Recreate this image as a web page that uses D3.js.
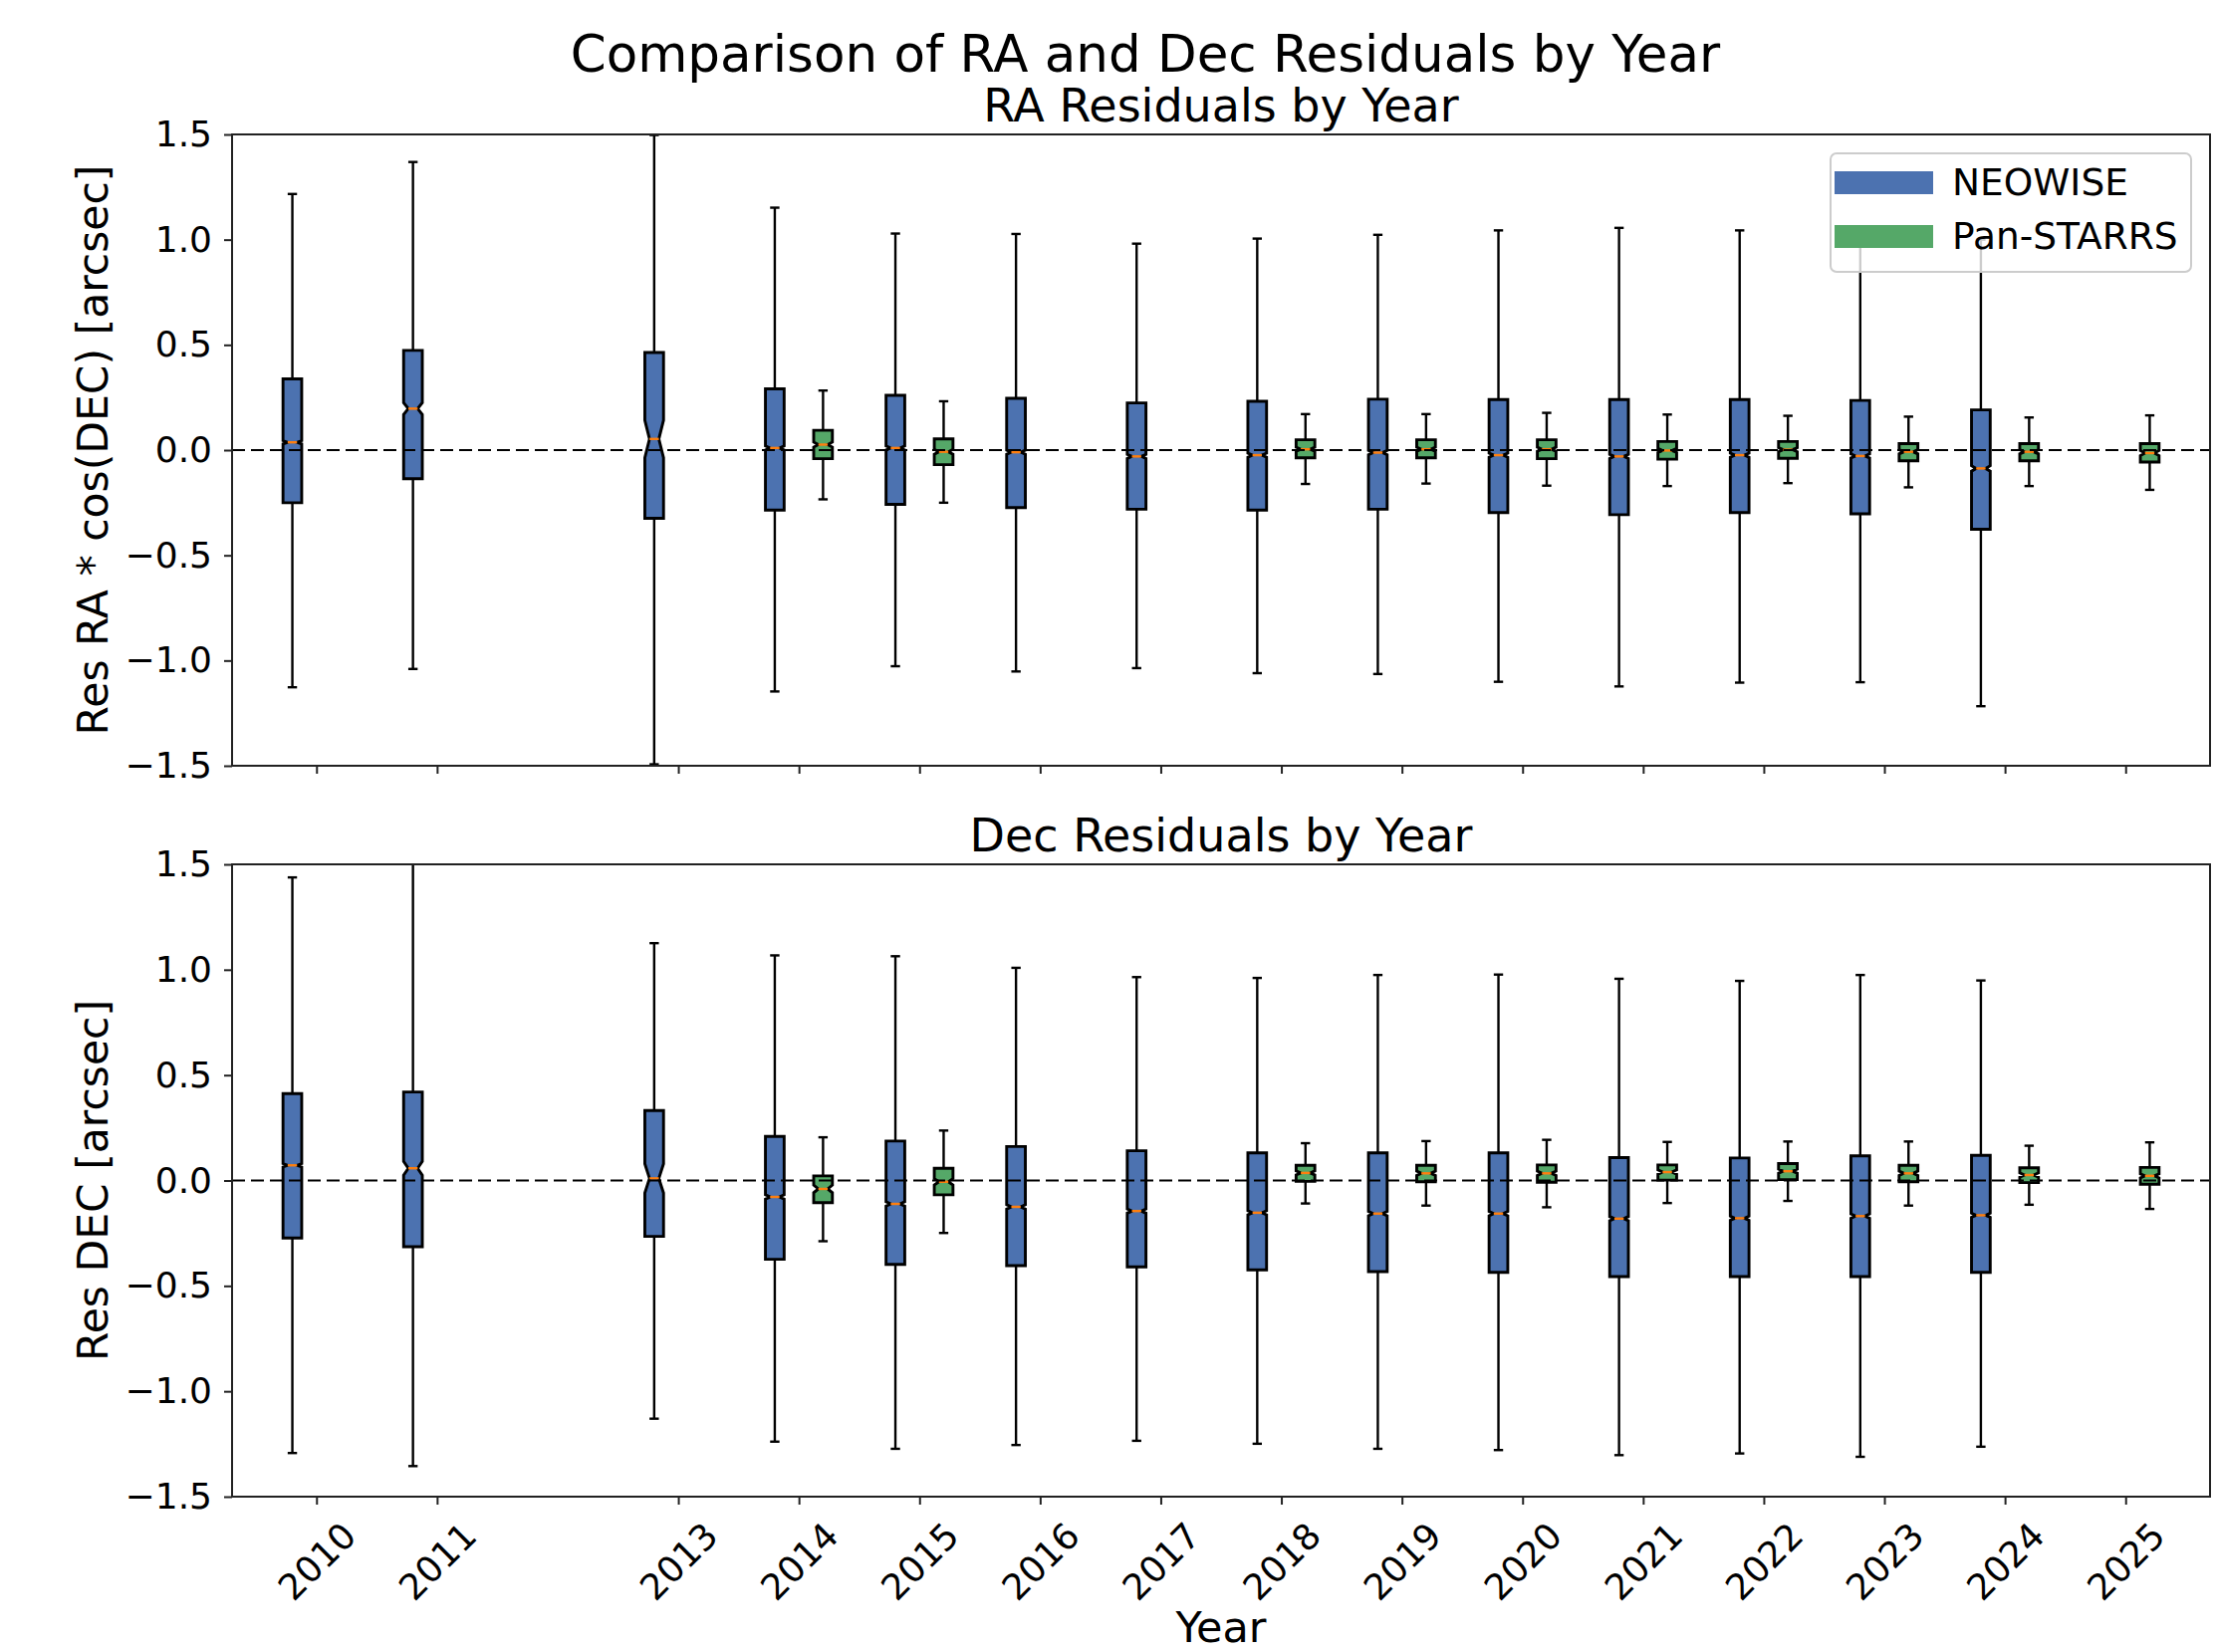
<!DOCTYPE html>
<html>
<head>
<meta charset="utf-8">
<script src="https://cdn.jsdelivr.net/npm/d3@7"></script>
<style>
  html, body { margin: 0; padding: 0; background: #fff; }
  svg { display: block; font-family: "DejaVu Sans", sans-serif; }
</style>
</head>
<body>
<svg id="chart" width="2225" height="1659"></svg>
<script>
// Observation years shown on the shared x axis (2012 has no data)
const years = [2010, 2011, 2013, 2014, 2015, 2016, 2017, 2018, 2019, 2020, 2021, 2022, 2023, 2024, 2025];
const yTicks = [-1.5, -1.0, -0.5, 0.0, 0.5, 1.0, 1.5];
const seriesNames = ["NEOWISE", "Pan-STARRS"];

// Box statistics per year: [year, whisker low, Q1, median, Q3, whisker high, notch half-height]
const raNeowise = [
  [2010, -1.127, -0.250,  0.037, 0.338, 1.217, 0.008],
  [2011, -1.040, -0.136,  0.197, 0.474, 1.369, 0.028],
  [2013, -1.493, -0.324,  0.053, 0.464, 1.497, 0.089],
  [2014, -1.147, -0.285,  0.010, 0.291, 1.152, 0.010],
  [2015, -1.027, -0.258,  0.010, 0.260, 1.029, 0.010],
  [2016, -1.052, -0.273, -0.010, 0.246, 1.027, 0.010],
  [2017, -1.036, -0.281, -0.030, 0.224, 0.981, 0.010],
  [2018, -1.060, -0.285, -0.024, 0.232, 1.005, 0.010],
  [2019, -1.064, -0.281, -0.012, 0.242, 1.023, 0.010],
  [2020, -1.101, -0.297, -0.024, 0.240, 1.044, 0.010],
  [2021, -1.123, -0.307, -0.030, 0.240, 1.056, 0.010],
  [2022, -1.105, -0.297, -0.024, 0.240, 1.044, 0.010],
  [2023, -1.103, -0.303, -0.028, 0.236, 1.030, 0.010],
  [2024, -1.217, -0.376, -0.087, 0.191, 1.000, 0.013]
];
const raPanstarrs = [
  [2014, -0.234, -0.041,  0.026, 0.094, 0.283, 0.012],
  [2015, -0.250, -0.069, -0.008, 0.053, 0.232, 0.012],
  [2018, -0.161, -0.037,  0.004, 0.049, 0.171, 0.010],
  [2019, -0.159, -0.037,  0.004, 0.049, 0.171, 0.010],
  [2020, -0.169, -0.041,  0.004, 0.049, 0.177, 0.010],
  [2021, -0.171, -0.043, -0.002, 0.041, 0.169, 0.010],
  [2022, -0.157, -0.039,  0.002, 0.041, 0.163, 0.010],
  [2023, -0.177, -0.051, -0.008, 0.031, 0.159, 0.010],
  [2024, -0.171, -0.051, -0.008, 0.031, 0.155, 0.010],
  [2025, -0.189, -0.057, -0.014, 0.031, 0.165, 0.012]
];
const decNeowise = [
  [2010, -1.293, -0.273,  0.072, 0.412, 1.438, 0.008],
  [2011, -1.355, -0.314,  0.058, 0.420, 1.550, 0.033],
  [2013, -1.130, -0.265,  0.010, 0.332, 1.126, 0.069],
  [2014, -1.239, -0.374, -0.078, 0.209, 1.068, 0.010],
  [2015, -1.273, -0.398, -0.111, 0.187, 1.064, 0.010],
  [2016, -1.255, -0.404, -0.125, 0.161, 1.009, 0.010],
  [2017, -1.235, -0.410, -0.145, 0.141, 0.965, 0.010],
  [2018, -1.249, -0.424, -0.153, 0.131, 0.961, 0.010],
  [2019, -1.273, -0.432, -0.157, 0.131, 0.975, 0.010],
  [2020, -1.279, -0.436, -0.157, 0.131, 0.977, 0.010],
  [2021, -1.303, -0.456, -0.181, 0.109, 0.957, 0.010],
  [2022, -1.295, -0.456, -0.179, 0.107, 0.947, 0.010],
  [2023, -1.311, -0.456, -0.169, 0.117, 0.975, 0.010],
  [2024, -1.263, -0.436, -0.165, 0.119, 0.949, 0.010]
];
const decPanstarrs = [
  [2014, -0.288, -0.105, -0.040, 0.022, 0.205, 0.018],
  [2015, -0.249, -0.068, -0.006, 0.058, 0.237, 0.015],
  [2018, -0.109, -0.004,  0.036, 0.072, 0.177, 0.010],
  [2019, -0.119, -0.006,  0.034, 0.072, 0.187, 0.010],
  [2020, -0.127, -0.008,  0.034, 0.074, 0.193, 0.010],
  [2021, -0.107,  0.002,  0.040, 0.074, 0.183, 0.010],
  [2022, -0.097,  0.004,  0.044, 0.080, 0.185, 0.010],
  [2023, -0.119, -0.006,  0.034, 0.072, 0.185, 0.010],
  [2024, -0.115, -0.010,  0.026, 0.060, 0.165, 0.010],
  [2025, -0.135, -0.018,  0.022, 0.062, 0.181, 0.010]
];

// ---- layout & styling ----
const COLORS = { NEOWISE: "#4C72B0", "Pan-STARRS": "#55A868" };
const MEDIAN = "#ff7f0e";
const INK = "#000";
const SPINE = "#222";
const OFFSET = 0.2;      // series offset from the year position
const BOX_W = 0.155;     // box width in years
const LEFT = 233, RIGHT = 2219;
const TICK_FONT = 36;
const panels = [
  { top: 135, bottom: 769, title: "RA Residuals by Year", ylabel: "Res RA * cos(DEC) [arcsec]",
    series: [raNeowise, raPanstarrs], showXLabels: false, legend: true },
  { top: 868, bottom: 1503, title: "Dec Residuals by Year", ylabel: "Res DEC [arcsec]",
    series: [decNeowise, decPanstarrs], showXLabels: true, legend: false }
];

const svg = d3.select("#chart");
const x = d3.scaleLinear().domain([2009.3, 2025.7]).range([LEFT, RIGHT]);

svg.append("text")
  .attr("x", 1150).attr("y", 72)
  .attr("text-anchor", "middle")
  .attr("font-size", 51.5)
  .attr("fill", INK)
  .text("Comparison of RA and Dec Residuals by Year");

panels.forEach((p, pi) => {
  const y = d3.scaleLinear().domain([-1.5, 1.5]).range([p.bottom, p.top]);
  const g = svg.append("g");
  const clipId = "clip" + pi;
  svg.append("clipPath").attr("id", clipId)
    .append("rect").attr("x", LEFT).attr("y", p.top)
    .attr("width", RIGHT - LEFT).attr("height", p.bottom - p.top);

  const plot = g.append("g").attr("clip-path", `url(#${clipId})`);

  // boxes for both series
  p.series.forEach((rows, si) => {
    const color = COLORS[seriesNames[si]];
    const off = si === 0 ? -OFFSET : OFFSET;
    rows.forEach(r => {
      const [yr, lo, q1, med, q3, hi, nh] = r;
      const c = yr + off;
      const bl = x(c - BOX_W / 2), br = x(c + BOX_W / 2);
      const nl = x(c - BOX_W / 4), nr = x(c + BOX_W / 4);
      const cx = x(c);
      const bg = plot.append("g");
      // whiskers
      bg.append("line").attr("x1", cx).attr("x2", cx).attr("y1", y(q1)).attr("y2", y(lo))
        .attr("stroke", INK).attr("stroke-width", 2.4);
      bg.append("line").attr("x1", cx).attr("x2", cx).attr("y1", y(q3)).attr("y2", y(hi))
        .attr("stroke", INK).attr("stroke-width", 2.4);
      // caps
      [lo, hi].forEach(v => {
        bg.append("line").attr("x1", nl).attr("x2", nr).attr("y1", y(v)).attr("y2", y(v))
          .attr("stroke", INK).attr("stroke-width", 2.4);
      });
      // notched box
      const pts = [
        [bl, y(q1)], [br, y(q1)], [br, y(med - nh)], [nr, y(med)], [br, y(med + nh)],
        [br, y(q3)], [bl, y(q3)], [bl, y(med + nh)], [nl, y(med)], [bl, y(med - nh)]
      ];
      bg.append("path").attr("d", d3.line()(pts) + "Z")
        .attr("fill", color).attr("stroke", INK).attr("stroke-width", 2.9)
        .attr("stroke-linejoin", "miter");
      // median
      bg.append("line").attr("x1", nl).attr("x2", nr).attr("y1", y(med)).attr("y2", y(med))
        .attr("stroke", MEDIAN).attr("stroke-width", 2.4);
    });
  });

  // zero reference line
  plot.append("line")
    .attr("x1", LEFT).attr("x2", RIGHT).attr("y1", y(0)).attr("y2", y(0))
    .attr("stroke", INK).attr("stroke-width", 2.2).attr("stroke-dasharray", "13,6");

  // y axis
  const yAxis = d3.axisLeft(y).tickValues(yTicks).tickFormat(d3.format(".1f"))
    .tickSize(8).tickSizeOuter(0).tickPadding(12);
  const ya = g.append("g").attr("transform", `translate(${LEFT},0)`).call(yAxis);
  ya.select(".domain").remove();
  ya.selectAll(".tick line").attr("stroke", SPINE).attr("stroke-width", 2);
  ya.selectAll(".tick text").attr("font-size", TICK_FONT).attr("fill", INK)
    .attr("font-family", "DejaVu Sans");

  // x axis
  const xAxis = d3.axisBottom(x).tickValues(years)
    .tickFormat(p.showXLabels ? d => String(d) : () => "")
    .tickSize(8).tickSizeOuter(0).tickPadding(0);
  const xa = g.append("g").attr("transform", `translate(0,${p.bottom})`).call(xAxis);
  xa.select(".domain").remove();
  xa.selectAll(".tick line").attr("stroke", SPINE).attr("stroke-width", 2);
  xa.selectAll(".tick text")
    .attr("font-size", TICK_FONT).attr("fill", INK).attr("font-family", "DejaVu Sans")
    .attr("x", 0).attr("y", 0).attr("dy", "0.35em")
    .attr("text-anchor", "middle")
    .attr("transform", "translate(0,65) rotate(-45)");

  // spines
  g.append("rect").attr("x", LEFT).attr("y", p.top)
    .attr("width", RIGHT - LEFT).attr("height", p.bottom - p.top)
    .attr("fill", "none").attr("stroke", SPINE).attr("stroke-width", 2);

  // titles and labels
  g.append("text").attr("x", (LEFT + RIGHT) / 2).attr("y", p.top - 13)
    .attr("text-anchor", "middle").attr("font-size", 46).attr("fill", INK)
    .text(p.title);
  g.append("text")
    .attr("transform", `translate(108,${(p.top + p.bottom) / 2}) rotate(-90)`)
    .attr("text-anchor", "middle").attr("font-size", 42.5).attr("fill", INK)
    .text(p.ylabel);

  if (p.legend) {
    const lg = g.append("g");
    lg.append("rect").attr("x", 1838).attr("y", 154).attr("width", 362).attr("height", 119)
      .attr("rx", 6).attr("fill", "#fff").attr("fill-opacity", 0.8)
      .attr("stroke", "#cccccc").attr("stroke-width", 2);
    seriesNames.forEach((name, i) => {
      const yy = 172 + i * 54;
      lg.append("rect").attr("x", 1842).attr("y", yy).attr("width", 99).attr("height", 23)
        .attr("fill", COLORS[name]);
      lg.append("text").attr("x", 1960).attr("y", yy + 24)
        .attr("font-size", 37.5).attr("fill", INK).text(name);
    });
  }
});

svg.append("text")
  .attr("x", (LEFT + RIGHT) / 2).attr("y", 1649)
  .attr("text-anchor", "middle").attr("font-size", 43).attr("fill", INK)
  .text("Year");
</script>
</body>
</html>
